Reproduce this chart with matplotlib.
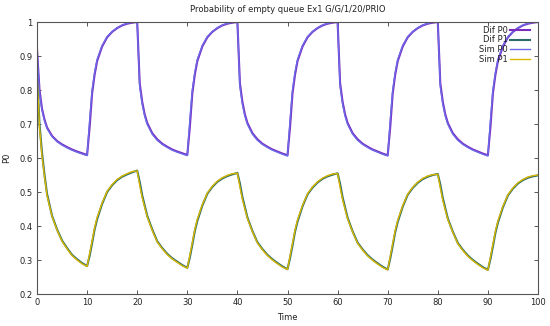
import matplotlib
matplotlib.use("Agg")
import matplotlib.pyplot as plt

# ---- data ----
time = [
    0, 0.5, 1, 1.5, 2, 3, 4, 5, 6, 7, 8, 9,
    10, 10.5, 11, 11.5, 12, 13, 14, 15, 16, 17, 18, 19,
    20, 20.5, 21, 21.5, 22, 23, 24, 25, 26, 27, 28, 29,
    30, 30.5, 31, 31.5, 32, 33, 34, 35, 36, 37, 38, 39,
    40, 40.5, 41, 41.5, 42, 43, 44, 45, 46, 47, 48, 49,
    50, 50.5, 51, 51.5, 52, 53, 54, 55, 56, 57, 58, 59,
    60, 60.5, 61, 61.5, 62, 63, 64, 65, 66, 67, 68, 69,
    70, 70.5, 71, 71.5, 72, 73, 74, 75, 76, 77, 78, 79,
    80, 80.5, 81, 81.5, 82, 83, 84, 85, 86, 87, 88, 89,
    90, 90.5, 91, 91.5, 92, 93, 94, 95, 96, 97, 98, 99,
    100,
]

dif_p0 = [
    0.92, 0.80, 0.745, 0.713, 0.69, 0.665, 0.65, 0.64, 0.632, 0.625, 0.619, 0.614,
    0.609, 0.69, 0.79, 0.845, 0.885, 0.928, 0.955, 0.971, 0.982, 0.99, 0.995, 0.998,
    1.0, 0.82, 0.765, 0.728, 0.703, 0.673, 0.655, 0.642, 0.633, 0.625, 0.619, 0.614,
    0.609, 0.69, 0.79, 0.845, 0.885, 0.928, 0.955, 0.971, 0.982, 0.99, 0.995, 0.998,
    1.0, 0.82, 0.765, 0.728, 0.703, 0.673, 0.655, 0.642, 0.633, 0.625, 0.619, 0.613,
    0.608, 0.69, 0.79, 0.845, 0.885, 0.928, 0.955, 0.971, 0.982, 0.99, 0.995, 0.998,
    1.0, 0.82, 0.765, 0.728, 0.703, 0.673, 0.655, 0.642, 0.633, 0.625, 0.619, 0.613,
    0.608, 0.69, 0.79, 0.845, 0.885, 0.928, 0.955, 0.971, 0.982, 0.99, 0.995, 0.998,
    1.0, 0.82, 0.765, 0.728, 0.703, 0.673, 0.655, 0.642, 0.633, 0.625, 0.619, 0.613,
    0.608, 0.69, 0.79, 0.845, 0.885, 0.928, 0.955, 0.971, 0.982, 0.99, 0.995, 0.998,
    1.0,
]

sim_p0 = [
    0.92, 0.79, 0.74, 0.709, 0.687, 0.663, 0.648, 0.638, 0.63, 0.623, 0.617, 0.612,
    0.607, 0.71, 0.8, 0.852, 0.89, 0.931, 0.957, 0.972, 0.983, 0.991, 0.996, 0.999,
    0.999, 0.81, 0.758, 0.723, 0.699, 0.67, 0.652, 0.64, 0.631, 0.623, 0.617, 0.612,
    0.607, 0.71, 0.8, 0.852, 0.89, 0.931, 0.957, 0.972, 0.983, 0.991, 0.996, 0.999,
    0.999, 0.81, 0.758, 0.723, 0.699, 0.67, 0.652, 0.64, 0.631, 0.623, 0.617, 0.611,
    0.606, 0.71, 0.8, 0.852, 0.89, 0.931, 0.957, 0.972, 0.983, 0.991, 0.996, 0.999,
    0.999, 0.81, 0.758, 0.723, 0.699, 0.67, 0.652, 0.64, 0.631, 0.623, 0.617, 0.611,
    0.606, 0.71, 0.8, 0.852, 0.89, 0.931, 0.957, 0.972, 0.983, 0.991, 0.996, 0.999,
    0.999, 0.81, 0.758, 0.723, 0.699, 0.67, 0.652, 0.64, 0.631, 0.623, 0.617, 0.611,
    0.606, 0.71, 0.8, 0.852, 0.89, 0.931, 0.957, 0.972, 0.983, 0.991, 0.996, 0.999,
    0.999,
]

dif_p1 = [
    0.85, 0.70, 0.615, 0.55, 0.495, 0.43, 0.39, 0.357, 0.335, 0.315, 0.302, 0.291,
    0.282, 0.312, 0.35, 0.39, 0.42, 0.465, 0.50, 0.52, 0.535, 0.545, 0.552, 0.558,
    0.563, 0.53, 0.49, 0.46, 0.43, 0.39, 0.355, 0.335, 0.318, 0.305, 0.295, 0.285,
    0.277, 0.307, 0.345, 0.385, 0.415, 0.46, 0.495, 0.515, 0.53, 0.54, 0.547, 0.552,
    0.556, 0.525, 0.485, 0.455, 0.425, 0.385, 0.352, 0.332, 0.315, 0.302, 0.291, 0.281,
    0.273, 0.305, 0.343, 0.383, 0.413, 0.458, 0.493, 0.513, 0.528, 0.539, 0.546, 0.551,
    0.555, 0.524, 0.484, 0.454, 0.424, 0.384, 0.351, 0.331, 0.314, 0.301, 0.29, 0.28,
    0.272, 0.304, 0.342, 0.382, 0.412, 0.457, 0.492, 0.512, 0.527, 0.538, 0.545, 0.55,
    0.553, 0.522, 0.482, 0.452, 0.422, 0.383, 0.35, 0.33, 0.313, 0.3, 0.289, 0.279,
    0.271, 0.302, 0.34, 0.38, 0.41, 0.455, 0.49, 0.51, 0.525, 0.535, 0.542, 0.546,
    0.549,
]

sim_p1 = [
    0.85, 0.69, 0.605, 0.545, 0.49, 0.428, 0.388, 0.355, 0.333, 0.313, 0.30, 0.289,
    0.281, 0.318, 0.356, 0.395, 0.425, 0.468, 0.502, 0.522, 0.537, 0.547, 0.554, 0.56,
    0.562, 0.52, 0.483, 0.455, 0.427, 0.387, 0.353, 0.333, 0.316, 0.303, 0.293, 0.283,
    0.276, 0.313, 0.351, 0.39, 0.42, 0.463, 0.497, 0.517, 0.532, 0.542, 0.549, 0.554,
    0.555, 0.515, 0.478, 0.45, 0.422, 0.383, 0.35, 0.33, 0.313, 0.3, 0.289, 0.279,
    0.272, 0.311, 0.349, 0.388, 0.418, 0.461, 0.495, 0.515, 0.53, 0.541, 0.548, 0.553,
    0.554, 0.514, 0.477, 0.449, 0.421, 0.382, 0.349, 0.329, 0.312, 0.299, 0.288, 0.278,
    0.271, 0.31, 0.348, 0.387, 0.417, 0.46, 0.494, 0.514, 0.529, 0.54, 0.547, 0.551,
    0.552, 0.512, 0.475, 0.447, 0.419, 0.381, 0.348, 0.328, 0.311, 0.298, 0.287, 0.277,
    0.27, 0.308, 0.346, 0.385, 0.415, 0.458, 0.492, 0.512, 0.527, 0.537, 0.544, 0.548,
    0.55,
]

series_labels = ["Dif P0", "Dif P1", "Sim P0", "Sim P1"]
x_ticks = [0, 10, 20, 30, 40, 50, 60, 70, 80, 90, 100]
y_ticks = [0.2, 0.3, 0.4, 0.5, 0.6, 0.7, 0.8, 0.9, 1.0]
y_tick_labels = ["0.2", "0.3", "0.4", "0.5", "0.6", "0.7", "0.8", "0.9", "1"]

# ---- drawing ----
plt.rcParams["font.family"] = ["DejaVu Sans"]
fig = plt.figure(figsize=(5.5, 3.26), dpi=100)
ax = fig.add_axes([37 / 550, 1 - 294 / 326, (538 - 37) / 550, (294 - 22) / 326])

ax.plot(time, dif_p0, color="#7a2cc0", lw=1.5, label=series_labels[0])
ax.plot(time, dif_p1, color="#2c6b66", lw=1.5, label=series_labels[1])
ax.plot(time, sim_p0, color="#6a6ae8", lw=1.0, label=series_labels[2])
ax.plot(time, sim_p1, color="#d8b800", lw=1.0, label=series_labels[3])

ax.set_xlim(0, 100)
ax.set_ylim(0.2, 1.0)
ax.set_xticks(x_ticks)
ax.set_xticklabels([str(v) for v in x_ticks])
ax.set_yticks(y_ticks)
ax.set_yticklabels(y_tick_labels)

ax.tick_params(direction="in", length=3, width=0.7, top=True, right=True,
               labelsize=6, colors="#555555", labelcolor="#222222", pad=3)
for s in ax.spines.values():
    s.set_color("#555555")
    s.set_linewidth(0.8)

fig.text(0.523, 0.972, "Probability of empty queue Ex1 G/G/1/20/PRIO",
         ha="center", va="center", fontsize=6, color="#222222")
ax.set_xlabel("Time", fontsize=6, color="#222222", labelpad=4)
ax.set_ylabel("P0", fontsize=6, color="#222222", labelpad=6)

leg = ax.legend(loc="upper right", bbox_to_anchor=(0.995, 1.005), frameon=False,
                markerfirst=False, fontsize=6, handlelength=2.5,
                handletextpad=0.25, labelspacing=0.1, borderaxespad=0.2)
for t in leg.get_texts():
    t.set_color("#222222")

fig.savefig("out.png", dpi=100)
